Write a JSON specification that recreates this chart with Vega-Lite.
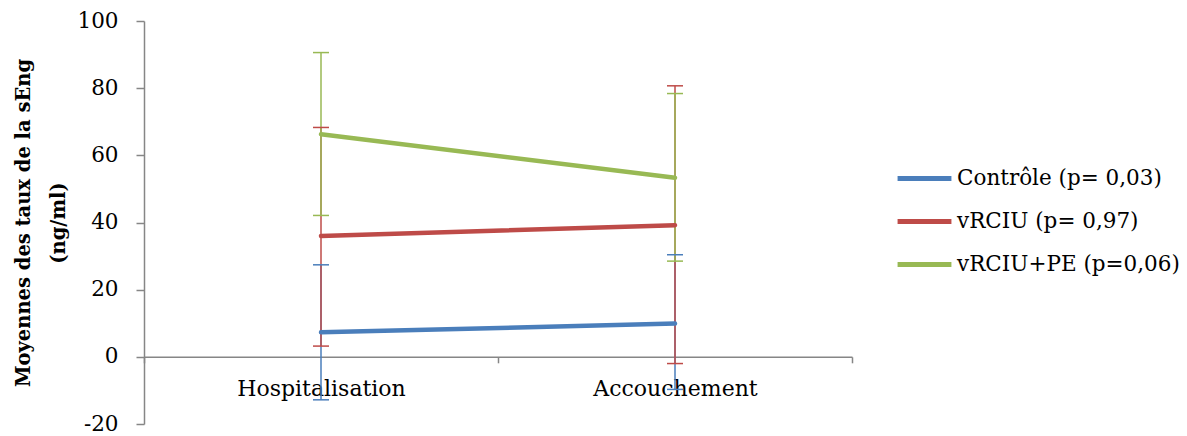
{
  "$schema": "https://vega.github.io/schema/vega-lite/v6.json",
  "width": 708,
  "height": 403,
  "padding": {"left": 13, "top": 10, "right": 5, "bottom": 5},
  "background": "white",
  "config": {"view": {"stroke": null}, "font": "DejaVu Serif"},
  "data": {
    "values": [
      {"groupe": "Contrôle (p= 0,03)", "moment": "Hospitalisation", "moyenne": 7.3, "bas": -12.8, "haut": 27.4},
      {"groupe": "Contrôle (p= 0,03)", "moment": "Accouchement", "moyenne": 9.9, "bas": -9.7, "haut": 30.4},
      {"groupe": "vRCIU (p= 0,97)", "moment": "Hospitalisation", "moyenne": 36.0, "bas": 3.2, "haut": 68.3},
      {"groupe": "vRCIU (p= 0,97)", "moment": "Accouchement", "moyenne": 39.2, "bas": -2.0, "haut": 80.7},
      {"groupe": "vRCIU+PE (p=0,06)", "moment": "Hospitalisation", "moyenne": 66.3, "bas": 42.1, "haut": 90.6},
      {"groupe": "vRCIU+PE (p=0,06)", "moment": "Accouchement", "moyenne": 53.3, "bas": 28.5, "haut": 78.4}
    ]
  },
  "encoding": {
    "x": {
      "field": "moment",
      "type": "nominal",
      "sort": ["Hospitalisation", "Accouchement"],
      "scale": {"type": "band", "paddingInner": 0, "paddingOuter": 0},
      "axis": {
        "title": null,
        "labelAngle": 0,
        "offset": -67.2,
        "tickBand": "extent",
        "domainColor": "#868686",
        "domainWidth": 1.5,
        "tickColor": "#868686",
        "tickWidth": 1.5,
        "tickSize": 6,
        "labelFontSize": 22,
        "labelColor": "#000000",
        "labelPadding": 16
      }
    },
    "color": {
      "field": "groupe",
      "type": "nominal",
      "scale": {
        "domain": ["Contrôle (p= 0,03)", "vRCIU (p= 0,97)", "vRCIU+PE (p=0,06)"],
        "range": ["#4A7EBB", "#BE4B48", "#98B954"]
      },
      "legend": {
        "title": null,
        "orient": "none",
        "legendX": 751,
        "legendY": 128,
        "symbolType": "stroke",
        "symbolSize": 2900,
        "symbolStrokeWidth": 5,
        "symbolOpacity": 1,
        "labelFontSize": 21.5,
        "labelLimit": 400,
        "labelColor": "#000000",
        "labelOffset": 3,
        "rowPadding": 3
      }
    }
  },
  "layer": [
    {
      "mark": {"type": "rule", "strokeWidth": 1.5, "opacity": 1},
      "encoding": {
        "y": {
          "field": "bas",
          "type": "quantitative",
          "scale": {"domain": [-20, 100], "nice": false, "zero": false},
          "axis": {
            "values": [-20, 0, 20, 40, 60, 80, 100],
            "labelExpr": "'' + datum.value",
            "title": ["Moyennes des taux de la sEng", "(ng/ml)"],
            "titleFontWeight": "bold",
            "titleFontSize": 19.5,
            "titleLineHeight": 35,
            "titleColor": "#000000",
            "titlePadding": 8,
            "grid": false,
            "domainColor": "#868686",
            "domainWidth": 1.5,
            "tickColor": "#868686",
            "tickWidth": 1.5,
            "tickSize": 8,
            "labelFontSize": 21.5,
            "labelColor": "#000000",
            "labelPadding": 18
          }
        },
        "y2": {"field": "haut"}
      }
    },
    {
      "mark": {"type": "tick", "orient": "horizontal", "size": 16, "thickness": 1.5, "opacity": 1},
      "encoding": {"y": {"field": "bas", "type": "quantitative"}}
    },
    {
      "mark": {"type": "tick", "orient": "horizontal", "size": 16, "thickness": 1.5, "opacity": 1},
      "encoding": {"y": {"field": "haut", "type": "quantitative"}}
    },
    {
      "mark": {"type": "line", "strokeWidth": 4.5, "strokeCap": "round"},
      "encoding": {"y": {"field": "moyenne", "type": "quantitative"}}
    }
  ]
}
